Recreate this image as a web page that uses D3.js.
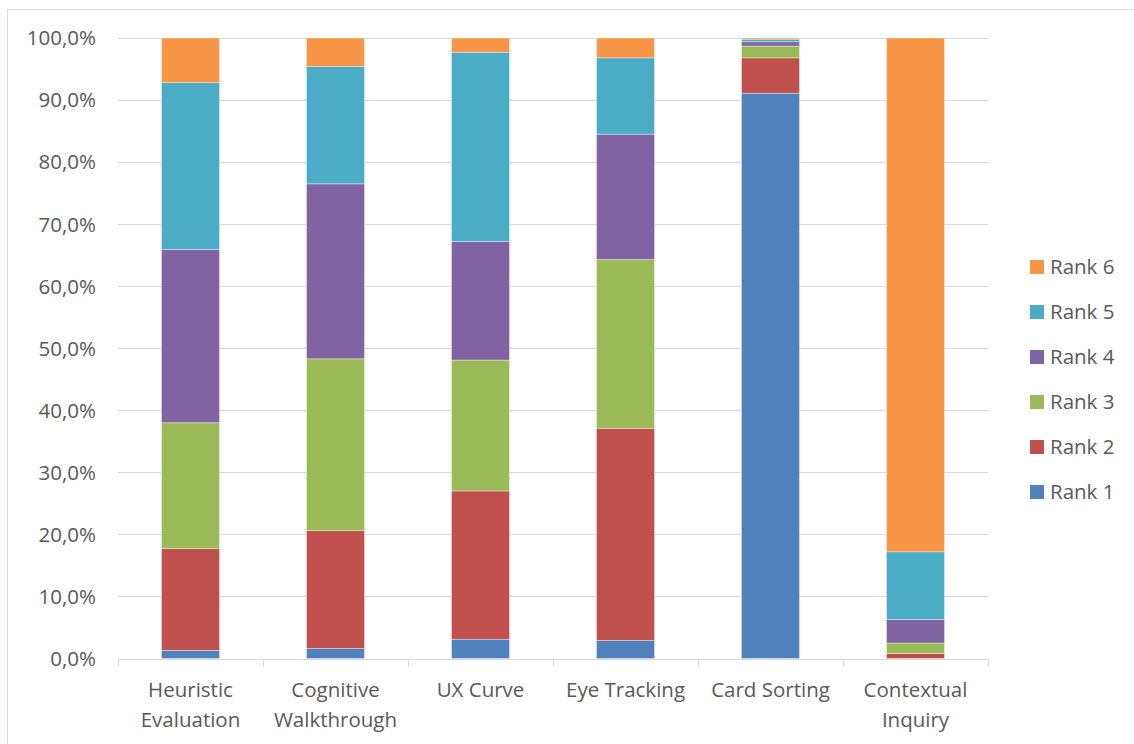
<!DOCTYPE html>
<html>
<head>
<meta charset="utf-8">
<script src="https://cdn.jsdelivr.net/npm/d3@7"></script>
<style>
  html, body { margin: 0; padding: 0; background: #fff; }
  svg { display: block; }
  text { font-family: "Open Sans", "Liberation Sans", sans-serif; fill: #595959; }
</style>
</head>
<body>
<svg id="chart" width="1134" height="744"></svg>
<script>
// Methods ranked by respondents (share of votes per rank, %)
const categories = [
  ["Heuristic", "Evaluation"],
  ["Cognitive", "Walkthrough"],
  ["UX Curve"],
  ["Eye Tracking"],
  ["Card Sorting"],
  ["Contextual", "Inquiry"]
];
const seriesNames = ["Rank 1", "Rank 2", "Rank 3", "Rank 4", "Rank 5", "Rank 6"];
const rank1 = [1.3, 1.6, 3.1, 2.9, 91.1, 0.0];
const rank2 = [16.4, 19.0, 23.9, 34.2, 5.7, 0.8];
const rank3 = [20.3, 27.7, 21.1, 27.2, 1.9, 1.7];
const rank4 = [27.9, 28.2, 19.1, 20.2, 0.7, 3.8];
const rank5 = [26.9, 18.9, 30.5, 12.3, 0.4, 10.9];
const rank6 = [7.2, 4.6, 2.3, 3.2, 0.2, 82.8];
const yTicks = [0, 10, 20, 30, 40, 50, 60, 70, 80, 90, 100];

const colors = ["#4F81BD", "#C0504D", "#9BBB59", "#8064A2", "#4BACC6", "#F79646"];
const seriesValues = [rank1, rank2, rank3, rank4, rank5, rank6];

const svg = d3.select("#chart");
const margin = { left: 118, right: 146, top: 38, bottom: 85 };
const W = 1134, H = 744;
const fontSize = "20.5px";

// chart frame
svg.append("rect")
  .attr("x", 7.5).attr("y", 9.5)
  .attr("width", W + 10).attr("height", H + 10)
  .attr("fill", "none").attr("stroke", "#d9d9d9").attr("stroke-width", 1);

const x = d3.scaleBand()
  .domain(d3.range(categories.length))
  .range([margin.left, W - margin.right])
  .paddingInner(0).paddingOuter(0);

const y = d3.scaleLinear().domain([0, 100]).range([H - margin.bottom - 0.5, margin.top]);

// gridlines
svg.append("g")
  .selectAll("line")
  .data(yTicks.filter(t => t > 0))
  .join("line")
  .attr("x1", margin.left).attr("x2", W - margin.right)
  .attr("y1", d => Math.round(y(d)) + 0.5).attr("y2", d => Math.round(y(d)) + 0.5)
  .attr("stroke", "#d9d9d9").attr("stroke-width", 1);

// y labels
svg.append("g")
  .selectAll("text")
  .data(yTicks)
  .join("text")
  .attr("x", 96)
  .attr("y", d => y(d))
  .attr("dy", "0.36em")
  .attr("text-anchor", "end")
  .style("font-size", fontSize)
  .text(d => d3.format(".1f")(d).replace(".", ",") + "%");

// stacked bars
const table = categories.map((c, i) => {
  const row = { i };
  seriesNames.forEach((s, k) => row[s] = seriesValues[k][i]);
  return row;
});
const stack = d3.stack().keys(seriesNames)(table);
const barW = 58;

svg.append("g")
  .selectAll("g")
  .data(stack)
  .join("g")
  .attr("fill", (d, k) => colors[k])
  .selectAll("rect")
  .data(d => d)
  .join("rect")
  .attr("x", d => x(d.data.i) + x.bandwidth() / 2 - barW / 2)
  .attr("width", barW)
  .attr("y", d => y(d[1]))
  .attr("height", d => Math.max(0, y(d[0]) - y(d[1])))
  .attr("stroke", "rgba(255,255,255,0.45)")
  .attr("stroke-width", 0.8);

// x axis line and category ticks
const axisY = Math.round(y(0)) + 0.5;
svg.append("line")
  .attr("x1", margin.left).attr("x2", W - margin.right)
  .attr("y1", axisY).attr("y2", axisY)
  .attr("stroke", "#d9d9d9").attr("stroke-width", 1);

const tickXs = d3.range(categories.length + 1).map(i => i < categories.length ? x(i) : x(i - 1) + x.bandwidth());
svg.append("g")
  .selectAll("line")
  .data(tickXs)
  .join("line")
  .attr("x1", d => Math.round(d) + 0.5).attr("x2", d => Math.round(d) + 0.5)
  .attr("y1", axisY).attr("y2", axisY + 7)
  .attr("stroke", "#d9d9d9").attr("stroke-width", 1);

// category labels
const labels = svg.append("g")
  .selectAll("text")
  .data(categories)
  .join("text")
  .attr("x", (d, i) => x(i) + x.bandwidth() / 2)
  .attr("y", 697)
  .attr("text-anchor", "middle")
  .style("font-size", fontSize);
labels.selectAll("tspan")
  .data(d => d)
  .join("tspan")
  .attr("x", function () { return d3.select(this.parentNode).attr("x"); })
  .attr("dy", (d, j) => j === 0 ? 0 : 30)
  .text(d => d);

// legend (Rank 6 on top)
const legend = svg.append("g")
  .selectAll("g")
  .data(seriesNames.map((s, k) => ({ s, k })).reverse())
  .join("g")
  .attr("transform", (d, j) => `translate(1030, ${267 + j * 45})`);
legend.append("rect")
  .attr("x", 0).attr("y", -7)
  .attr("width", 14).attr("height", 14)
  .attr("fill", d => colors[d.k]);
legend.append("text")
  .attr("x", 20).attr("y", 0).attr("dy", "0.36em")
  .style("font-size", fontSize)
  .text(d => d.s);
</script>
</body>
</html>
